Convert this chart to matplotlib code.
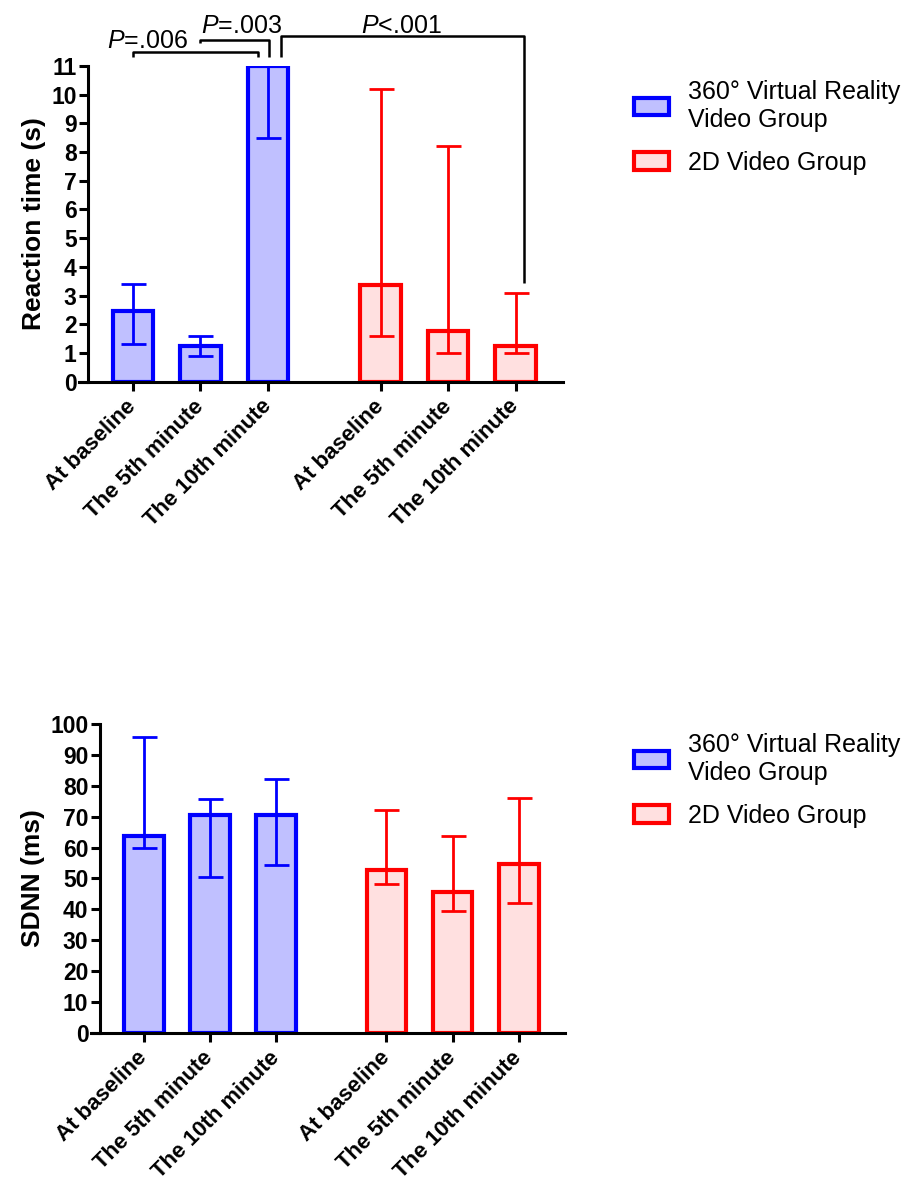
import numpy as np
import matplotlib
matplotlib.use("Agg")
import matplotlib.pyplot as plt
from matplotlib.patches import Patch

plt.rcParams["font.family"] = ["Liberation Sans", "DejaVu Sans"]
plt.rcParams["mathtext.fontset"] = "custom"
plt.rcParams["mathtext.rm"] = "Liberation Sans"
plt.rcParams["mathtext.it"] = "Liberation Sans:italic"

# data
times = ["At baseline", "The 5th minute", "The 10th minute"]
groups = ["360° Virtual Reality\nVideo Group", "2D Video Group"]

rt_vr = [2.45, 1.25, 11.0]
rt_vr_lo = [1.3, 0.9, 8.5]
rt_vr_hi = [3.4, 1.6, 11.03]
rt_2d = [3.35, 1.75, 1.25]
rt_2d_lo = [1.6, 1.0, 1.0]
rt_2d_hi = [10.2, 8.2, 3.1]

sdnn_vr = [63.9, 70.4, 70.4]
sdnn_vr_lo = [60.0, 50.4, 54.5]
sdnn_vr_hi = [95.7, 75.8, 82.1]
sdnn_2d = [52.6, 45.7, 54.8]
sdnn_2d_lo = [48.3, 39.5, 42.1]
sdnn_2d_hi = [72.1, 63.6, 75.9]

pvals = ["$P$=.006", "$P$=.003", "$P$<.001"]

x_vr = np.array([0, 1, 2])
x_2d = np.array([3.67, 4.67, 5.67])

blue, blue_fill = "#0000FF", "#C0C0FF"
red, red_fill = "#FF0000", "#FFE0E0"

fig = plt.figure(figsize=(9.08, 11.83), dpi=100)
ax1 = fig.add_axes([0.0870, 0.6774, 0.5330, 0.2669])
ax2 = fig.add_axes([0.1002, 0.1268, 0.5220, 0.2612])


def draw(ax, vr, vr_lo, vr_hi, d2, d2_lo, d2_hi, ymax, ystep, ylabel):
    for xs, v, lo, hi, ec, fc in [(x_vr, vr, vr_lo, vr_hi, blue, blue_fill),
                                  (x_2d, d2, d2_lo, d2_hi, red, red_fill)]:
        v = np.array(v)
        ax.bar(xs, v, width=0.6, color=fc, edgecolor=ec, linewidth=3, zorder=2)
        ax.errorbar(xs, v, yerr=[v - np.array(lo), np.array(hi) - v], fmt="none",
                    ecolor=ec, elinewidth=2, capsize=9, capthick=2, zorder=3)
    ax.set_xlim(-0.8, 6.37)
    ax.set_ylim(0, ymax)
    ax.spines["top"].set_visible(False)
    ax.spines["right"].set_visible(False)
    ax.spines["left"].set_position(("data", -0.66))
    for s in ["left", "bottom"]:
        ax.spines[s].set_linewidth(2.2)
    ax.tick_params(axis="both", length=6.5, width=2.2, pad=2)
    ax.tick_params(axis="x", pad=9)
    yt = np.arange(0, ymax + ystep / 2, ystep)
    ax.set_yticks(yt, labels=[str(int(t)) for t in yt], fontsize=16.5, fontweight="bold")
    ax.set_xticks(list(x_vr) + list(x_2d))
    ax.set_xticklabels(times + times, rotation=45, ha="right", va="center",
                       rotation_mode="anchor", fontsize=16, fontweight="bold")
    ax.set_ylabel(ylabel, fontsize=19, fontweight="bold", labelpad=4)


draw(ax1, rt_vr, rt_vr_lo, rt_vr_hi, rt_2d, rt_2d_lo, rt_2d_hi, 11, 1, "Reaction time (s)")
draw(ax2, sdnn_vr, sdnn_vr_lo, sdnn_vr_hi, sdnn_2d, sdnn_2d_lo, sdnn_2d_hi, 100, 10, "SDNN (ms)")

# significance brackets
kw = dict(color="black", lw=1.8, clip_on=False, solid_capstyle="butt")
ax1.plot([0, 0, 1.85, 1.85], [11.31, 11.49, 11.49, 11.31], **kw)
ax1.plot([1.0, 1.0, 2.01, 2.01], [11.8, 11.9, 11.9, 11.31], **kw)
ax1.plot([2.2, 2.2, 5.79, 5.79], [11.31, 12.04, 12.04, 3.43], **kw)
ax1.text(0.22, 11.63, pvals[0], fontsize=18, ha="center", va="baseline")
ax1.text(1.61, 12.15, pvals[1], fontsize=18, ha="center", va="baseline")
ax1.text(3.97, 12.15, pvals[2], fontsize=18, ha="center", va="baseline")

handles = [Patch(facecolor=blue_fill, edgecolor=blue, linewidth=3),
           Patch(facecolor=red_fill, edgecolor=red, linewidth=3)]
for top in [80, 733]:
    fig.legend(handles, groups, loc="upper left", bbox_to_anchor=(634 / 908, 1 - top / 1183),
               frameon=False, fontsize=18, borderpad=0, borderaxespad=0,
               handlelength=1.4, handleheight=0.7, handletextpad=0.75, labelspacing=0.75)

fig.savefig("out.png", dpi=100)
